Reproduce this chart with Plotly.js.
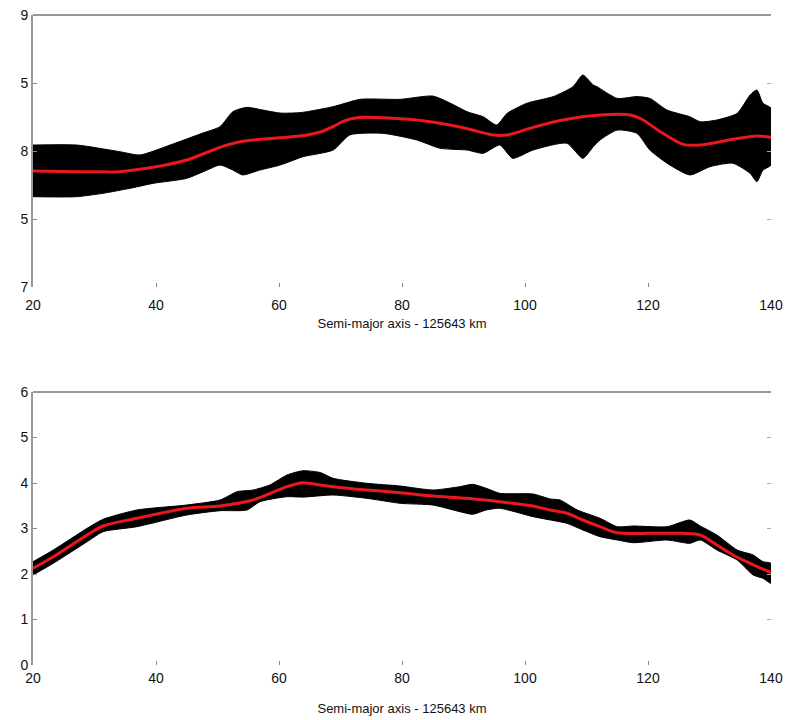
<!DOCTYPE html>
<html>
<head>
<meta charset="utf-8">
<script src="https://cdn.plot.ly/plotly-3.0.1.min.js"></script>
<style>
html,body{margin:0;padding:0;background:#fff;}
#chart{width:796px;height:720px;clip-path:inset(0 0 0 20px);}
</style>
</head>
<body>
<div id="chart"></div>
<script>
// ---- Top panel (range 1.7–1.9) ----
const topMedX = [20, 25, 30, 34, 39.5, 45, 50.4, 53.7, 55.8, 61.3, 64.6, 66.7, 68.8, 70.5, 72.7, 76.9, 82.4, 87.8, 91.5, 94.8, 97.1, 101.3, 106.8, 112.2, 117.1, 119.2, 122, 125.7, 128.5, 133.8, 137.7, 140];
const topMedY = [1.7853, 1.7849, 1.7848, 1.7848, 1.788, 1.7934, 1.8027, 1.8068, 1.8081, 1.8101, 1.8118, 1.814, 1.818, 1.822, 1.8245, 1.8245, 1.8228, 1.8191, 1.8154, 1.8118, 1.8118, 1.8174, 1.8233, 1.8265, 1.8265, 1.8228, 1.8142, 1.8049, 1.8044, 1.8086, 1.811, 1.8101];

const topUpX = [20, 27.1, 34.1, 37.4, 42.3, 47.6, 50.4, 52.5, 54.8, 57.4, 60.2, 63.6, 68.8, 73.2, 79.7, 85.0, 87.8, 90.6, 93.2, 95.4, 97.1, 100.3, 104.6, 107.8, 109.4, 111.1, 111.7, 115, 118.2, 120.3, 123.1, 126.8, 128.5, 131.2, 134.5, 136.6, 137.7, 138.7, 140];
const topUpY = [1.8044, 1.8044, 1.7995, 1.7971, 1.8044, 1.8132, 1.8179, 1.8289, 1.8321, 1.8301, 1.8279, 1.8283, 1.8326, 1.838, 1.838, 1.8404, 1.8353, 1.8289, 1.8252, 1.8191, 1.8277, 1.8351, 1.84, 1.8473, 1.8559, 1.8485, 1.8473, 1.8387, 1.84, 1.8387, 1.8301, 1.8252, 1.8215, 1.8228, 1.8277, 1.8412, 1.8449, 1.8351, 1.8314];

const topLoX = [20, 27.1, 31.4, 35.8, 39.5, 45, 48.3, 50.4, 52.5, 54.1, 56.9, 60.2, 63.9, 68.8, 71.5, 76.9, 82.4, 86.2, 90.6, 93.2, 95.9, 98.0, 101.3, 106.8, 109.4, 111.1, 112.2, 115, 118.2, 120.3, 123.1, 126.8, 130.1, 133.8, 136.6, 137.7, 138.7, 140];
const topLoY = [1.7664, 1.7664, 1.7689, 1.7726, 1.7762, 1.7799, 1.786, 1.7897, 1.786, 1.7824, 1.786, 1.7897, 1.7958, 1.8007, 1.8118, 1.813, 1.8081, 1.802, 1.8007, 1.7983, 1.8044, 1.7946, 1.8007, 1.8057, 1.7946, 1.8032, 1.8081, 1.8154, 1.813, 1.8007, 1.791, 1.7824, 1.7885, 1.791, 1.7836, 1.7774, 1.786, 1.7897];

// ---- Bottom panel (range 0–6) ----
const botMedX = [20, 23.3, 28.8, 31.4, 36.9, 45, 50.4, 55.8, 61.3, 63.9, 66.7, 68.8, 74.3, 79.7, 85, 90.6, 95.9, 101.3, 104.1, 106.8, 109.4, 112.2, 115, 120.3, 125.7, 128.5, 131.2, 133.8, 136.6, 140];
const botMedY = [2.125, 2.38, 2.857, 3.055, 3.224, 3.444, 3.495, 3.626, 3.919, 4.007, 3.956, 3.919, 3.846, 3.787, 3.714, 3.663, 3.589, 3.495, 3.407, 3.334, 3.187, 3.04, 2.908, 2.894, 2.894, 2.857, 2.637, 2.418, 2.235, 2.029];

const botUpX = [20, 23.3, 28.8, 31.4, 36.9, 45, 50.4, 53.2, 55.8, 58.5, 61.3, 63.9, 66.7, 68.8, 74.3, 79.7, 85, 89.4, 91.5, 93.7, 95.9, 101.3, 104.1, 105.7, 108.5, 112.2, 115, 117.6, 123.1, 126.8, 128.5, 131.2, 134.5, 137.1, 138.7, 140];
const botUpY = [2.27, 2.527, 3.004, 3.202, 3.407, 3.516, 3.626, 3.81, 3.846, 3.956, 4.176, 4.27, 4.23, 4.103, 3.993, 3.934, 3.846, 3.919, 3.971, 3.883, 3.773, 3.758, 3.65, 3.626, 3.407, 3.224, 3.04, 3.055, 3.04, 3.187, 3.055, 2.857, 2.527, 2.418, 2.27, 2.235];

const botLoX = [20, 23.3, 28.8, 31.4, 36.9, 45, 50.4, 54.8, 56.9, 61.3, 63.9, 68.8, 74.3, 79.7, 85, 89.4, 91.5, 93.7, 95.9, 101.3, 104.1, 106.8, 109.4, 112.2, 115, 117.6, 123.1, 126.8, 128.5, 131.2, 134.5, 137.1, 138.7, 140];
const botLoY = [1.978, 2.235, 2.71, 2.93, 3.04, 3.297, 3.391, 3.407, 3.589, 3.699, 3.69, 3.736, 3.663, 3.554, 3.516, 3.37, 3.312, 3.407, 3.444, 3.26, 3.187, 3.114, 2.967, 2.82, 2.747, 2.688, 2.747, 2.674, 2.747, 2.527, 2.308, 1.978, 1.905, 1.796];

const xTicks = [20, 40, 60, 80, 100, 120, 140];
const topYTicks = [1.7, 1.75, 1.8, 1.85, 1.9];
const botYTicks = [0, 1, 2, 3, 4, 5, 6];
const xTitle = 'Semi-major axis - 125643 km';

function band(ux, uy, lx, ly, xa, ya) {
  return {
    type: 'scatter', mode: 'lines', xaxis: xa, yaxis: ya,
    x: ux.concat(lx.slice().reverse()),
    y: uy.concat(ly.slice().reverse()),
    fill: 'toself', fillcolor: '#000000',
    line: {color: '#000000', width: 1, shape: 'spline', smoothing: 0.6},
    hoverinfo: 'skip', showlegend: false
  };
}
function median(x, y, xa, ya) {
  return {
    type: 'scatter', mode: 'lines', xaxis: xa, yaxis: ya, x: x, y: y,
    line: {color: 'rgb(235,22,30)', width: 3, shape: 'spline', smoothing: 0.8},
    showlegend: false
  };
}
function ghost(x, y, xa, ya) {
  return {type: 'scatter', mode: 'lines', xaxis: xa, yaxis: ya, x: x, y: y,
    line: {width: 0}, opacity: 0, hoverinfo: 'skip', showlegend: false};
}

const data = [
  band(topUpX, topUpY, topLoX, topLoY, 'x', 'y'),
  median(topMedX, topMedY, 'x', 'y'),
  ghost(topMedX, topMedY, 'x', 'y3'),
  band(botUpX, botUpY, botLoX, botLoY, 'x2', 'y2'),
  median(botMedX, botMedY, 'x2', 'y2'),
  ghost(botMedX, botMedY, 'x2', 'y4')
];

const tickFont = {family: 'Liberation Sans, Arial, sans-serif', size: 14, color: '#111'};
const titleFont = {family: 'Liberation Sans, Arial, sans-serif', size: 13, color: '#111'};

function xAxis(anchor, labelGap, titleGap) {
  return {
    anchor: anchor, range: [20, 140], tickvals: xTicks, ticktext: xTicks.map(String),
    ticks: 'inside', ticklen: 4, tickcolor: '#888', showline: false, showgrid: false, zeroline: false,
    tickfont: tickFont, ticklabelstandoff: labelGap,
    title: {text: xTitle, font: titleFont, standoff: titleGap}, automargin: false
  };
}
function yAxis(anchor, domain, range, ticks) {
  return {
    anchor: anchor, domain: domain, range: range, tickvals: ticks, ticktext: ticks.map(String),
    ticks: 'inside', ticklen: 4, tickcolor: '#888', showline: true, linecolor: '#999', linewidth: 2,
    showgrid: false, zeroline: false, tickfont: tickFont, automargin: false
  };
}
function yRight(over, domain, range, ticks) {
  return {
    overlaying: over, side: 'right', anchor: over === 'y' ? 'x' : 'x2', domain: domain, range: range,
    tickvals: ticks, ticks: 'inside', ticklen: 4, tickcolor: '#aaa', showticklabels: false,
    showline: false, showgrid: false, zeroline: false
  };
}

const topDom = [0.5815, 1];
const botDom = [0, 0.42];

const layout = {
  width: 796, height: 720,
  margin: {l: 33, r: 25, t: 15, b: 55},
  paper_bgcolor: '#ffffff', plot_bgcolor: '#ffffff',
  showlegend: false,
  xaxis: xAxis('y', 8, 6),
  yaxis: yAxis('x', topDom, [1.7, 1.9], topYTicks),
  xaxis2: xAxis('y2', 3, 18),
  yaxis2: yAxis('x2', botDom, [0, 6], botYTicks),
  yaxis3: yRight('y', topDom, [1.7, 1.9], topYTicks),
  yaxis4: yRight('y2', botDom, [0, 6], botYTicks),
  shapes: [
    {type: 'line', xref: 'x domain', yref: 'y domain', x0: 0, x1: 1, y0: 1, y1: 1, line: {color: '#999', width: 2}},
    {type: 'line', xref: 'x2 domain', yref: 'y2 domain', x0: 0, x1: 1, y0: 1, y1: 1, line: {color: '#999', width: 2}}
  ]
};

Plotly.newPlot('chart', data, layout, {displayModeBar: false, staticPlot: true});
</script>
</body>
</html>
